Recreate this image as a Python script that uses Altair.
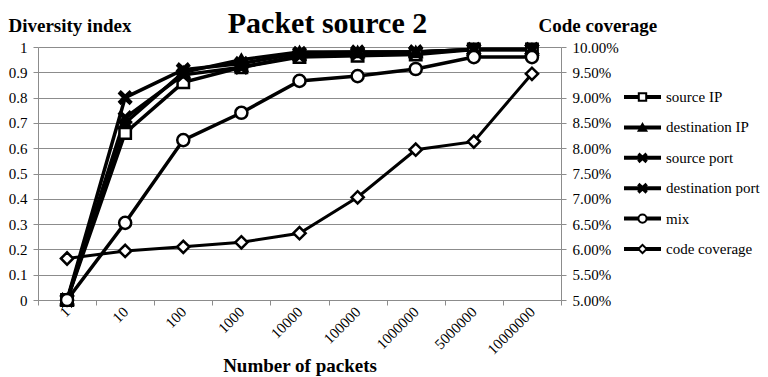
import altair as alt
import pandas as pd

# ---- data ----
packets = ["1", "10", "100", "1000", "10000", "100000", "1000000", "5000000", "10000000"]
series_names = ["source IP", "destination IP", "source port", "destination port", "mix"]
source_ip = [0.0, 0.66, 0.86, 0.92, 0.96, 0.965, 0.97, 0.99, 0.99]
destination_ip = [0.0, 0.70, 0.90, 0.95, 0.98, 0.98, 0.98, 0.99, 0.99]
source_port = [0.0, 0.80, 0.91, 0.935, 0.975, 0.98, 0.98, 0.99, 0.99]
destination_port = [0.0, 0.72, 0.89, 0.92, 0.965, 0.975, 0.98, 0.99, 0.99]
mix = [0.0, 0.305, 0.632, 0.74, 0.866, 0.885, 0.913, 0.96, 0.96]
code_coverage = [0.0582, 0.0597, 0.0605, 0.0614, 0.0632, 0.0703, 0.0797, 0.0813, 0.0947]
legend_names = ["source IP", "destination IP", "source port", "destination port", "mix", "code coverage"]
left_ticks = [0, 0.1, 0.2, 0.3, 0.4, 0.5, 0.6, 0.7, 0.8, 0.9, 1]
right_ticks = [0.05, 0.055, 0.06, 0.065, 0.07, 0.075, 0.08, 0.085, 0.09, 0.095, 0.10]

left_values = [source_ip, destination_ip, source_port, destination_port, mix]
rows = []
for name, vals in zip(series_names, left_values):
    for p, v in zip(packets, vals):
        rows.append({"series": name, "packets": p, "value": v})
left_df = pd.DataFrame(rows)
cov_df = pd.DataFrame({"packets": packets, "cov": code_coverage, "series": "code coverage"})
legend_df = pd.DataFrame({"series": legend_names, "idx": list(range(len(legend_names)))})

# ---- styles ----
FONT = "Liberation Serif"
GRID = "#8c8c8c"
X_PATH = "M-0.75,-1L0,-0.3L0.75,-1L1,-0.7L0.3,0L1,0.7L0.75,1L0,0.3L-0.75,1L-1,0.7L-0.3,0L-1,-0.7Z"
shape_scale = alt.Scale(domain=legend_names,
                        range=["square", "triangle-up", X_PATH, X_PATH, "circle", "diamond"])
fill_scale = alt.Scale(domain=legend_names,
                       range=["white", "black", "black", "black", "white", "white"])
size_scale = alt.Scale(domain=legend_names, range=[130, 150, 190, 190, 200, 150])
legend_size_scale = alt.Scale(domain=legend_names, range=[55, 70, 80, 80, 70, 65])
width_scale = alt.Scale(domain=legend_names, range=[3.5, 3.5, 3.5, 3.5, 3, 3])

W, H = 523, 253

x_axis = alt.Axis(title="Number of packets", tickBand="extent", labelAngle=-45,
                  labelAlign="right", labelBaseline="middle", labelPadding=4,
                  tickSize=5, grid=False, titleY=71, titleBaseline="alphabetic")
x_scale = alt.Scale(type="band", paddingInner=0, paddingOuter=0)
x_enc = alt.X("packets:N", sort=packets, bandPosition=0.5, scale=x_scale, axis=x_axis)

left_axis = alt.Axis(values=left_ticks, format=".1~f", title="Diversity index",
                     titleAngle=0, titleAlign="left", titleX=-30, titleY=-16,
                     titleBaseline="alphabetic", tickSize=5, labelPadding=6, grid=True)
y_left = alt.Y("value:Q", scale=alt.Scale(domain=[0, 1], nice=False), axis=left_axis)

left_lines = alt.Chart(left_df).mark_line(color="black").encode(
    x=x_enc, y=y_left, detail="series:N",
    strokeWidth=alt.StrokeWidth("series:N", scale=width_scale, legend=None),
)
left_points = alt.Chart(left_df).mark_point(filled=True, stroke="black", strokeWidth=2.5, opacity=1).encode(
    x=x_enc, y=y_left,
    shape=alt.Shape("series:N", scale=shape_scale, legend=None),
    fill=alt.Fill("series:N", scale=fill_scale, legend=None),
    size=alt.Size("series:N", scale=size_scale, legend=None),
)
left = alt.layer(left_lines, left_points)

right_axis = alt.Axis(orient="right", values=right_ticks, format=".2%", title="Code coverage",
                      titleAngle=0, titleAlign="left", titleX=-23, titleY=-16,
                      titleBaseline="alphabetic", tickSize=5, labelPadding=6, grid=False)
y_right = alt.Y("cov:Q", scale=alt.Scale(domain=[0.05, 0.10], nice=False, zero=False), axis=right_axis)

right_line = alt.Chart(cov_df).mark_line(color="black", strokeWidth=3).encode(x=x_enc, y=y_right)
right_points = alt.Chart(cov_df).mark_point(filled=True, fill="white", stroke="black", strokeWidth=2.5,
                                            opacity=1, shape="diamond", size=150).encode(
    x=x_enc, y=y_right)
right = alt.layer(right_line, right_points)

# ---- legend (drawn to the right of the plot area) ----
LEG_X = W + 63
row_step = 30.4
first = 50
d0 = -first / row_step
d1 = (H - first) / row_step
y_leg = alt.Y("idx:Q", scale=alt.Scale(domain=[d0, d1], reverse=True, nice=False, zero=False), axis=None)
leg_rule = alt.Chart(legend_df).mark_rule(color="black", strokeWidth=4).encode(
    x=alt.value(LEG_X), x2=alt.value(LEG_X + 37), y=y_leg)
leg_pts = alt.Chart(legend_df).mark_point(filled=True, stroke="black", strokeWidth=2, opacity=1).encode(
    x=alt.value(LEG_X + 18.5), y=y_leg,
    shape=alt.Shape("series:N", scale=shape_scale, legend=None),
    fill=alt.Fill("series:N", scale=fill_scale, legend=None),
    size=alt.Size("series:N", scale=legend_size_scale, legend=None),
)
leg_txt = alt.Chart(legend_df).mark_text(align="left", baseline="middle", font=FONT, fontSize=15,
                                         color="black").encode(
    x=alt.value(LEG_X + 42), y=y_leg, text="series:N")
legend = alt.layer(leg_rule, leg_pts, leg_txt)

chart = alt.layer(left, right, legend).resolve_scale(
    y="independent", size="independent"
).properties(
    width=W, height=H,
    title=alt.TitleParams("Packet source 2", font=FONT, fontSize=30, fontWeight="bold", color="black",
                          frame="group", anchor="middle", baseline="alphabetic", offset=-47, dx=28),
    padding={"left": 8, "top": 9, "right": 0, "bottom": 4},
).configure_view(stroke=None).configure_axis(
    labelFont=FONT, labelFontSize=15, labelColor="black",
    titleFont=FONT, titleFontSize=19, titleFontWeight="bold", titleColor="black",
    domainColor=GRID, tickColor=GRID, gridColor=GRID, domainWidth=1, tickWidth=1, gridWidth=1,
)

chart.save("out.html", embed_options={"renderer": "svg", "actions": False})
